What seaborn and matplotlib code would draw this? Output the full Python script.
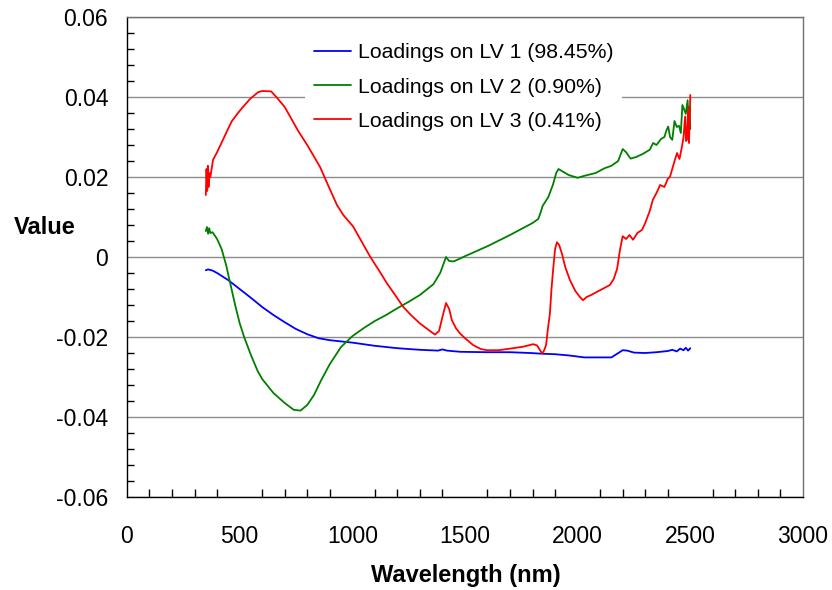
import matplotlib
matplotlib.use("Agg")
import matplotlib.pyplot as plt
import seaborn as sns
import pandas as pd
from matplotlib.ticker import MultipleLocator, FuncFormatter

labels = ["Loadings on LV 1 (98.45%)", "Loadings on LV 2 (0.90%)", "Loadings on LV 3 (0.41%)"]
colors = ["#0000ff", "#008000", "#ff0000"]

lv1_x = [350, 360, 380, 400, 450, 500, 550, 600, 650, 700, 750, 800, 850, 900, 1000, 1100, 1200,
         1300, 1380, 1400, 1420, 1480, 1600, 1700, 1790, 1850, 1900, 1960, 2030, 2100, 2150, 2175,
         2200, 2220, 2250, 2300, 2350, 2400, 2420, 2440, 2455, 2470, 2480, 2490, 2500]
lv1_y = [-0.0033, -0.0031, -0.0034, -0.0040, -0.0058, -0.0080, -0.0102, -0.0125, -0.0145, -0.0163,
         -0.0180, -0.0193, -0.0203, -0.0208, -0.0214, -0.0222, -0.0228, -0.0232, -0.0234, -0.0231,
         -0.0234, -0.0237, -0.0238, -0.0238, -0.0240, -0.0242, -0.0243, -0.0246, -0.0251, -0.0251,
         -0.0251, -0.0242, -0.0233, -0.0234, -0.0239, -0.0240, -0.0238, -0.0235, -0.0232, -0.0236,
         -0.0229, -0.0233, -0.0227, -0.0234, -0.0228]

lv2_x = [350, 355, 360, 365, 370, 380, 400, 420, 440, 460, 480, 500, 520, 550, 580, 600, 650, 700,
         740, 770, 800, 830, 860, 900, 950, 1000, 1050, 1100, 1150, 1200, 1250, 1300, 1360, 1390,
         1416, 1430, 1450, 1470, 1500, 1600, 1700, 1800, 1825, 1835, 1845, 1870, 1890, 1905, 1915,
         1930, 1960, 2000, 2030, 2080, 2120, 2150, 2180, 2200, 2215, 2235, 2260, 2290, 2320, 2335,
         2350, 2370, 2385, 2395, 2402, 2410, 2420, 2430, 2440, 2450, 2458, 2465, 2472, 2480, 2488,
         2493, 2497, 2500]
lv2_y = [0.0065, 0.0075, 0.0058, 0.0072, 0.0060, 0.0062, 0.0045, 0.0020, -0.0020, -0.0070, -0.0120,
         -0.0165, -0.0200, -0.0245, -0.0285, -0.0305, -0.0340, -0.0365, -0.0382, -0.0384, -0.0370,
         -0.0345, -0.0310, -0.0268, -0.0225, -0.0198, -0.0178, -0.0160, -0.0145, -0.0128, -0.0112,
         -0.0095, -0.0068, -0.0040, 0.0000, -0.0010, -0.0011, -0.0006, 0.0002, 0.0027, 0.0055,
         0.0085, 0.0095, 0.0110, 0.0128, 0.0150, 0.0180, 0.0210, 0.0220, 0.0215, 0.0205, 0.0198,
         0.0203, 0.0210, 0.0222, 0.0228, 0.0240, 0.0270, 0.0262, 0.0246, 0.0250, 0.0258, 0.0268,
         0.0285, 0.0280, 0.0295, 0.0300, 0.0318, 0.0326, 0.0300, 0.0293, 0.0340, 0.0325, 0.0328,
         0.0310, 0.0380, 0.0370, 0.0358, 0.0392, 0.0340, 0.0375, 0.0320]

lv3_x = [350, 353, 356, 359, 362, 366, 370, 382, 400, 426, 450, 466, 490, 510, 546, 582, 600, 640,
         666, 700, 723, 760, 800, 857, 900, 932, 960, 1004, 1040, 1078, 1120, 1154, 1190, 1225,
         1260, 1300, 1340, 1367, 1385, 1400, 1416, 1430, 1442, 1460, 1478, 1500, 1536, 1570, 1598,
         1650, 1713, 1760, 1802, 1820, 1832, 1842, 1850, 1860, 1868, 1877, 1884, 1891, 1900, 1908,
         1918, 1930, 1945, 1966, 1990, 2010, 2024, 2040, 2060, 2086, 2110, 2143, 2160, 2175, 2188,
         2200, 2215, 2230, 2246, 2265, 2286, 2300, 2320, 2334, 2350, 2366, 2385, 2400, 2410, 2425,
         2441, 2452, 2463, 2470, 2477, 2481, 2485, 2490, 2494, 2497, 2500]
lv3_y = [0.0155, 0.0220, 0.0165, 0.0228, 0.0175, 0.0210, 0.0200, 0.0243, 0.0262, 0.0293, 0.0322,
         0.0340, 0.0358, 0.0372, 0.0395, 0.0412, 0.0415, 0.0414, 0.0398, 0.0375, 0.0352, 0.0315,
         0.0280, 0.0225, 0.0170, 0.0130, 0.0105, 0.0076, 0.0040, 0.0002, -0.0035, -0.0066, -0.0095,
         -0.0124, -0.0145, -0.0166, -0.0183, -0.0194, -0.0185, -0.0150, -0.0115, -0.0130, -0.0158,
         -0.0178, -0.0191, -0.0203, -0.0220, -0.0230, -0.0233, -0.0233, -0.0228, -0.0224, -0.0218,
         -0.0221, -0.0232, -0.0241, -0.0235, -0.0220, -0.0180, -0.0141, -0.0080, -0.0033, 0.0020,
         0.0037, 0.0030, 0.0009, -0.0025, -0.0058, -0.0085, -0.0100, -0.0108, -0.0100, -0.0095,
         -0.0087, -0.0080, -0.0070, -0.0055, -0.0030, 0.0018, 0.0052, 0.0045, 0.0055, 0.0043,
         0.0060, 0.0068, 0.0085, 0.0115, 0.0143, 0.0160, 0.0180, 0.0175, 0.0195, 0.0201, 0.0230,
         0.0260, 0.0245, 0.0276, 0.0300, 0.0351, 0.0290, 0.0293, 0.0368, 0.0285, 0.0340, 0.0405]

df = pd.concat([
    pd.DataFrame({"Wavelength": lv1_x, "Value": lv1_y, "series": labels[0]}),
    pd.DataFrame({"Wavelength": lv2_x, "Value": lv2_y, "series": labels[1]}),
    pd.DataFrame({"Wavelength": lv3_x, "Value": lv3_y, "series": labels[2]}),
], ignore_index=True)

sns.set_style("white")
plt.rcParams["font.family"] = ["Liberation Sans", "DejaVu Sans"]
plt.rcParams["axes.unicode_minus"] = False
plt.rcParams["text.color"] = "black"
plt.rcParams["axes.labelcolor"] = "black"
plt.rcParams["xtick.color"] = "black"
plt.rcParams["ytick.color"] = "black"

fig = plt.figure(figsize=(8.32, 5.90), dpi=100)
ax = fig.add_axes([0.1526, 0.1576, 0.8125, 0.8136])

sns.lineplot(data=df, x="Wavelength", y="Value", hue="series", hue_order=labels,
             palette=colors, linewidth=1.3, ax=ax, estimator=None, sort=True)

ax.set_xlim(0, 3000)
ax.set_ylim(-0.06, 0.06)
ax.xaxis.set_major_locator(MultipleLocator(500))
ax.xaxis.set_minor_locator(MultipleLocator(100))
ax.yaxis.set_major_locator(MultipleLocator(0.02))
ax.yaxis.set_minor_locator(MultipleLocator(0.004))
ax.yaxis.set_major_formatter(FuncFormatter(lambda v, p: "0" if abs(v) < 1e-9 else f"{v:.2f}"))
ax.xaxis.set_major_formatter(FuncFormatter(lambda v, p: f"{v:.0f}"))

ax.grid(axis="y", which="major", color="#8c8c8c", linewidth=1.0)
ax.grid(axis="x", visible=False)

for side in ["left", "bottom"]:
    ax.spines[side].set_color("black")
    ax.spines[side].set_linewidth(1.0)
for side in ["top", "right"]:
    ax.spines[side].set_color("#707070")
    ax.spines[side].set_linewidth(1.0)
    ax.spines[side].set_visible(True)

ax.tick_params(axis="x", which="major", direction="inout", length=12, width=1, labelsize=16.5, pad=14,
               color="black", labelcolor="black")
ax.tick_params(axis="x", which="minor", direction="in", length=6, width=1, color="black", bottom=True)
ax.tick_params(axis="y", which="major", direction="out", length=7, width=1, labelsize=16.5, pad=6.5,
               color="black", labelcolor="black")
ax.tick_params(axis="y", which="minor", direction="in", length=5, width=1, color="black", left=True)

ax.set_xlabel("Wavelength (nm)", fontsize=17, fontweight="bold", va="center", color="black")
ax.set_ylabel("Value", fontsize=17, fontweight="bold", rotation=0, ha="center", va="center", color="black")
ax.xaxis.set_label_coords(0.5015, -0.1625)
ax.yaxis.set_label_coords(-0.121, 0.5625)

leg = ax.legend(loc="upper left", bbox_to_anchor=(0.248, 0.985), frameon=True, fancybox=False,
                edgecolor="none", facecolor="white", framealpha=1.0, fontsize=15.3,
                handlelength=1.75, handletextpad=0.33, labelspacing=0.72, borderpad=0.4,
                title=None)
for line in leg.get_lines():
    line.set_linewidth(1.3)
for t in leg.get_texts():
    t.set_color("black")

fig.savefig("out.png", dpi=100)
